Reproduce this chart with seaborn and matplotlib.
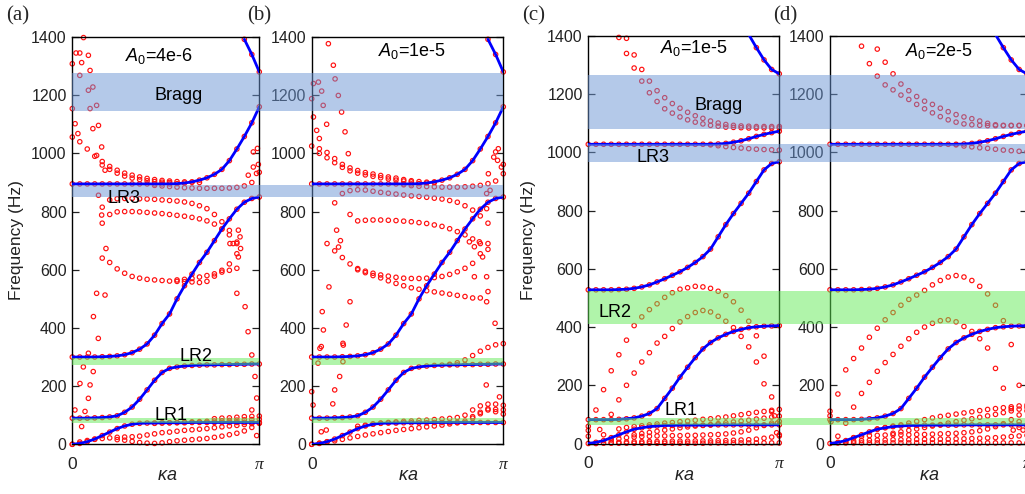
import numpy as np
import pandas as pd
import matplotlib
matplotlib.use("Agg")
import matplotlib.pyplot as plt
import seaborn as sns
from matplotlib.patches import Rectangle
from matplotlib.transforms import blended_transform_factory

# ---------------- data ----------------
# ka / pi sampling grid
GRID = [0.00, 0.04, 0.08, 0.12, 0.16, 0.20, 0.24, 0.28, 0.32, 0.36, 0.40, 0.44, 0.48,
        0.52, 0.56, 0.60, 0.64, 0.68, 0.72, 0.76, 0.80, 0.84, 0.88, 0.92, 0.96, 1.00]

# blue dispersion curves, panels (a),(b)  -> (start index, values)
AB_BLUE1 = (0, [0, 3, 9, 18, 30, 42, 54, 63, 69, 72, 73, 73, 74, 74, 74, 74, 75, 75, 75, 75, 75, 75, 75, 75, 75, 75])
AB_BLUE2 = (0, [90, 90, 90, 91, 92, 94, 98, 110, 128, 155, 187, 220, 247, 261, 266, 269, 271, 272, 273, 273, 274, 274, 275, 275, 276, 276])
AB_BLUE3 = (0, [300, 300, 300, 300, 301, 302, 304, 308, 315, 327, 345, 375, 415, 448, 500, 545, 585, 625, 660, 700, 740, 775, 808, 832, 845, 850])
AB_BLUE4 = (0, [895, 895, 895, 895, 895, 895, 895, 895, 895, 895, 895, 895, 895, 895, 896, 898, 902, 908, 916, 928, 945, 975, 1015, 1058, 1105, 1160])
AB_BLUE5 = (23, [1392, 1340, 1280])

# blue dispersion curves, panels (c),(d)
CD_BLUE1 = (0, [0, 4, 10, 20, 30, 40, 49, 54, 58, 60, 62, 62, 63, 63, 63, 63, 63, 64, 64, 64, 64, 64, 64, 64, 64, 64])
CD_BLUE2 = (0, [82, 82, 82, 82, 83, 85, 88, 94, 103, 120, 155, 190, 228, 262, 295, 325, 347, 363, 375, 385, 392, 398, 401, 403, 404, 405])
CD_BLUE3 = (0, [528, 528, 528, 528, 529, 530, 533, 538, 545, 555, 566, 578, 590, 605, 622, 642, 668, 710, 752, 790, 825, 860, 900, 940, 962, 968])
CD_BLUE4 = (0, [1028, 1028, 1028, 1028, 1028, 1028, 1028, 1028, 1028, 1028, 1028, 1028, 1028, 1028, 1028, 1028, 1028, 1029, 1031, 1035, 1040, 1047, 1055, 1062, 1068, 1073])
CD_BLUE5 = (21, [1405, 1360, 1318, 1285, 1270])

# red simulated points, panel (a)
A_RED1 = (0, [0, 8, 13, 17, 20, 22, 24, 25, 26, 28, 32, 36, 40, 42, 45, 48, 50, 52, 54, 57, 60, 63, 65, 68, 71, 74])
A_RED2 = (6, [16, 14, 10, 6, 4, 3, 5, 9, 12, 14, 16, 18, 20, 24, 28, 33, 38, 46, 58, 72])
A_RED3 = (11, [72, 73, 74, 75, 76, 77, 78, 79, 80, 81, 82, 83, 84, 85, 86])
A_RED4 = (19, [88, 90, 91, 93, 95, 96, 97])
A_RED5 = (4, [640, 625, 603, 588, 577, 571, 567, 565, 563, 561, 560, 559, 558, 556, 560, 578, 598, 620, 655])
A_RED6 = (14, [565, 567, 570, 575, 580, 586, 592, 598, 605])
A_RED7 = (4, [815, 840, 844, 845, 845, 844, 843, 842, 840, 838, 836, 833, 828, 820, 810, 790, 765, 735, 690])
A_RED8 = (4, [760, 790, 799, 800, 800, 799, 797, 795, 793, 790, 787, 784, 780, 775, 768, 757, 740, 720, 695])
A_RED9 = (0, [1056, 1040, 1015, 990, 972, 955, 942, 932, 925, 919, 914, 910, 907, 905, 903, 902, 901, 900])
A_RED10 = (4, [960, 945, 932, 922, 915, 910, 906, 903, 901, 900])
A_RED11 = (11, [890, 888, 886, 884, 882, 881, 880, 880, 880, 880, 881, 883, 888, 900, 935])
A_STRAY_K = [0.0, 0.02, 0.04, 0.06, 0.05, 0.086, 0.04, 0.086, 0.11, 0.095, 0.095, 0.13, 0.0, 0.015, 0.03,
             0.11, 0.14, 0.157, 0.13, 0.175, 0.14, 0.157, 0.18, 0.13, 0.175, 0.113, 0.139, 0.086, 0.059,
             0.041, 0.095, 0.086, 0.014, 0.068, 0.05, 0.112, 0.96, 0.977, 0.986, 0.96, 0.986, 0.88, 0.924,
             0.94, 0.968, 0.99, 0.941, 0.968, 0.995, 0.985, 0.888, 0.897, 0.86, 0.843, 0.888, 0.9]
A_STRAY_F = [1308, 1345, 1345, 1398, 1312, 1337, 1268, 1217, 1228, 1285, 1154, 1165, 1154, 1102, 1068,
             1085, 1096, 1022, 993, 942, 856, 788, 673, 519, 513, 439, 364, 313, 266,
             209, 204, 158, 118, 113, 61, 250, 307, 233, 159, 118, 30, 519, 473,
             387, 1005, 1017, 925, 953, 962, 931, 736, 713, 690, 690, 644, 673]

# red simulated points, panel (b)
B_RED1 = (6, [62, 66, 70, 73, 75, 77, 79, 80, 82, 83, 85, 87, 89, 92, 100, 118, 132, 138, 138, 134])
B_RED2 = (0, [0, 4, 8, 12, 17, 22, 27, 32, 36, 40, 44, 48, 51, 54, 57, 60, 63, 66, 70, 74, 80, 90, 105, 118, 120, 118])
B_RED3 = (21, [95, 110, 122, 112, 104])
B_RED4 = (18, [275, 280, 290, 305, 320, 333, 342, 346])
B_RED5 = (2, [690, 665, 642, 620, 604, 595, 588, 582, 578, 574, 571, 570, 570, 571, 573, 577, 584, 593, 605, 622, 655, 690])
B_RED6 = (6, [600, 590, 580, 572, 562, 553, 545, 538, 533, 528, 524, 520, 516, 512, 508, 503, 503, 525])
B_RED7 = (0, [1025, 1016, 1003, 982, 962, 950, 941, 934, 929, 924, 919, 915, 910, 906, 903, 901, 899])
B_RED8 = (1, [1000, 985, 968, 952, 940, 932, 926, 921, 916, 912, 908, 905, 902])
B_RED9 = (3, [830, 862, 872, 875, 874, 870, 866, 863, 860, 857, 854, 852, 849, 846, 843, 838, 832, 820, 805, 785, 760])
B_RED10 = (5, [790, 768, 770, 771, 771, 770, 769, 767, 765, 762, 759, 754, 749, 741, 731, 720, 706, 690, 670])
B_RED11 = (12, [892, 889, 887, 886, 885, 884, 884, 884, 885, 887, 890, 896, 905, 930])
B_STRAY_K = [0.0, 0.009, 0.035, 0.052, 0.06, 0.087, 0.113, 0.122, 0.139, 0.156, 0.174, 0.191, 0.009, 0.026,
             0.04, 0.078, 0.13, 0.15, 0.14, 0.0, 0.05, 0.163, 0.146, 0.12, 0.11, 0.076, 0.05, 0.007, 0.033,
             0.163, 0.09, 0.055, 0.061, 0.043, 0.2, 0.18, 0.165, 0.913, 0.957, 0.911, 0.98, 0.974, 0.96,
             0.95, 0.97, 0.922, 0.931, 0.913, 0.99, 1.0, 0.913, 0.823, 0.849, 0.875, 0.892, 0.849, 0.913]
B_STRAY_F = [1188, 1240, 1245, 1214, 1165, 1377, 1303, 1256, 1199, 1142, 1074, 999, 1125, 1079,
             1051, 1100, 736, 700, 678, 181, 336, 347, 233, 187, 139, 49, 43, 135, 279,
             284, 541, 456, 393, 330, 490, 410, 341, 490, 416, 204, 163, 1016, 1005,
             987, 976, 930, 873, 862, 953, 962, 810, 696, 679, 696, 644, 576, 576]

# red simulated points, panel (c)
C_RED1 = (4, [1395, 1340, 1290, 1245, 1205, 1175, 1150, 1135, 1122, 1112, 1104, 1098, 1093, 1090, 1087, 1086, 1085, 1084, 1084, 1084, 1084, 1084])
C_RED2 = (5, [1392, 1335, 1285, 1245, 1212, 1188, 1168, 1152, 1138, 1126, 1117, 1108, 1101, 1096, 1093, 1091, 1090, 1089, 1089, 1089, 1089])
C_RED3 = (16, [1026, 1023, 1020, 1017, 1015, 1013, 1011, 1010, 1009, 1008])
C_RED4 = (0, [45, 115, 185, 250, 305, 355, 405, 435, 460, 480, 502, 518, 530, 535, 540, 538, 533, 523, 508, 487, 458, 420, 370, 300, 160, 30])
C_RED5 = (1, [0, 30, 100, 150, 200, 242, 280, 312, 345, 368, 395, 418, 436, 450, 457, 452, 437, 420, 398, 368, 332, 280, 205, 110])
C_RED6 = (4, [50, 55, 58, 61, 64, 67, 70, 72, 75, 77, 80, 83, 85, 88, 91, 95, 99, 103, 107, 110, 114, 117])
C_RED7 = (6, [30, 34, 38, 42, 46, 50, 54, 57, 60, 62, 65, 68, 71, 74, 77, 80, 84, 87, 91, 94])
C_RED8 = (3, [12, 16, 20, 22, 24, 25, 26, 26, 27, 27, 28, 28, 29, 30, 31, 33, 36, 40, 46, 54, 62, 70, 76])
C_RED9 = (3, [3, 4, 5, 6, 6, 7, 7, 7, 8, 8, 8, 9, 9, 9, 10, 10, 11, 12, 13, 15, 18, 22, 26])
C_RED10 = (2, [1, 1, 1, 1, 1, 1, 1, 1, 1, 1, 1, 1, 1, 1, 2, 2, 2, 2, 2, 2, 2, 2, 2, 2])
C_STRAY_K = [0.0, 0.0, 0.06, 0.986, 0.99, 0.975]
C_STRAY_F = [59, 25, 48, 37, 70, 95]

# red simulated points, panel (d)
D_RED1 = (4, [1365, 1305, 1262, 1232, 1215, 1197, 1182, 1165, 1150, 1136, 1123, 1112, 1104, 1098, 1095, 1093, 1092, 1092, 1092, 1092, 1092, 1092])
D_RED2 = (6, [1355, 1310, 1270, 1235, 1212, 1192, 1176, 1165, 1152, 1140, 1130, 1122, 1116, 1108, 1100, 1095, 1093, 1093, 1093, 1093])
D_RED3 = (16, [1026, 1022, 1019, 1016, 1014, 1011, 1008, 1006, 1004, 1002])
D_RED4 = (0, [95, 170, 253, 292, 328, 365, 396, 425, 450, 475, 495, 510, 526, 545, 560, 572, 577, 572, 560, 540, 514, 475, 422, 340, 200, 60])
D_RED5 = (1, [25, 70, 125, 172, 210, 248, 278, 306, 334, 360, 382, 400, 413, 422, 425, 418, 402, 385, 360, 328, 258, 190, 120, 55])
D_RED6 = (6, [50, 55, 60, 64, 70, 76, 82, 88, 93, 97, 101, 105, 109, 113, 117, 120, 123, 126, 129, 132])
D_RED7 = (8, [35, 40, 45, 50, 55, 60, 65, 70, 75, 80, 85, 90, 95, 100, 106, 112, 118, 124])
D_RED8 = (3, [20, 24, 27, 28, 29, 30, 30, 30, 31, 31, 32, 33, 34, 35, 37, 40, 44, 50, 58, 68, 82, 98, 112])
D_RED9 = (2, [5, 8, 10, 11, 12, 12, 13, 13, 13, 14, 14, 14, 15, 15, 16, 16, 17, 18, 19, 20, 22, 24, 26, 28])
D_RED10 = (1, [2, 2, 2, 2, 2, 2, 2, 2, 2, 2, 2, 2, 2, 2, 2, 2, 2, 2, 2, 2, 2, 2, 2, 2, 2])
D_STRAY_K = [0.0, 0.005, 0.93, 0.98, 0.96]
D_STRAY_F = [111, 75, 46, 46, 75]

# band gaps (Hz)
AB_BANDS_BLUE = [(1146, 1276), (851, 892)]
AB_BANDS_GREEN = [(272, 295), (73, 92)]
CD_BANDS_BLUE = [(1079, 1266), (968, 1029)]
CD_BANDS_GREEN = [(409, 523), (65, 86)]

PANEL_TAGS = ["(a)", "(b)", "(c)", "(d)"]
AMPLITUDES = ["4e-6", "1e-5", "1e-5", "2e-5"]
YTICKS = [0, 200, 400, 600, 800, 1000, 1200, 1400]

# ---------------- styling ----------------
sns.set_style("ticks")
plt.rcParams["font.family"] = ["Liberation Sans", "DejaVu Sans"]
plt.rcParams["mathtext.fontset"] = "custom"
plt.rcParams["mathtext.rm"] = "Liberation Sans"
plt.rcParams["mathtext.it"] = "Liberation Sans:italic"

W, H = 1025, 494
fig = plt.figure(figsize=(W / 100, H / 100), dpi=100)


def frac_rect(l, r, t, b):
    return [l / W, 1 - b / H, (r - l) / W, (b - t) / H]


ax_a = fig.add_axes(frac_rect(72.3, 259.3, 37, 444.3))
ax_b = fig.add_axes(frac_rect(311.7, 503.3, 37, 444.3))
ax_c = fig.add_axes(frac_rect(588.3, 779.3, 36, 443.5))
ax_d = fig.add_axes(frac_rect(830, 1027, 36, 443.5))
axes = [ax_a, ax_b, ax_c, ax_d]

panels = [
    dict(blue=[AB_BLUE1, AB_BLUE2, AB_BLUE3, AB_BLUE4, AB_BLUE5],
         red=[A_RED1, A_RED2, A_RED3, A_RED4, A_RED5, A_RED6, A_RED7, A_RED8, A_RED9, A_RED10, A_RED11],
         stray=(A_STRAY_K, A_STRAY_F)),
    dict(blue=[AB_BLUE1, AB_BLUE2, AB_BLUE3, AB_BLUE4, AB_BLUE5],
         red=[B_RED1, B_RED2, B_RED3, B_RED4, B_RED5, B_RED6, B_RED7, B_RED8, B_RED9, B_RED10, B_RED11],
         stray=(B_STRAY_K, B_STRAY_F)),
    dict(blue=[CD_BLUE1, CD_BLUE2, CD_BLUE3, CD_BLUE4, CD_BLUE5],
         red=[C_RED1, C_RED2, C_RED3, C_RED4, C_RED5, C_RED6, C_RED7, C_RED8, C_RED9, C_RED10],
         stray=(C_STRAY_K, C_STRAY_F)),
    dict(blue=[CD_BLUE1, CD_BLUE2, CD_BLUE3, CD_BLUE4, CD_BLUE5],
         red=[D_RED1, D_RED2, D_RED3, D_RED4, D_RED5, D_RED6, D_RED7, D_RED8, D_RED9, D_RED10],
         stray=(D_STRAY_K, D_STRAY_F)),
]


def curves_frame(curves):
    rows = []
    for ci, (start, vals) in enumerate(curves):
        for j, v in enumerate(vals):
            rows.append((np.pi * GRID[start + j], v, ci))
    return pd.DataFrame(rows, columns=["ka", "freq", "curve"])


for ax, p in zip(axes, panels):
    blue_df = curves_frame(p["blue"])
    red_df = curves_frame(p["blue"] + p["red"])
    sk, sf = p["stray"]
    stray_df = pd.DataFrame({"ka": np.pi * np.array(sk), "freq": sf, "curve": -1})
    pts = pd.concat([red_df, stray_df], ignore_index=True)
    pts = pts[(pts["freq"] <= 1400) & (pts["freq"] >= 0)]

    sns.scatterplot(data=pts, x="ka", y="freq", ax=ax, marker="o", s=10,
                    facecolor="none", edgecolor="#ff1010", linewidth=0.85,
                    clip_on=False, zorder=2, legend=False)
    sns.lineplot(data=blue_df, x="ka", y="freq", units="curve", estimator=None,
                 sort=False, color="#0000ff", lw=2.0, ax=ax, zorder=3, legend=False)

    ax.set_xlim(0, np.pi)
    ax.set_ylim(0, 1400)
    ax.set_xlabel("")
    ax.set_ylabel("")
    ax.set_yticks(YTICKS)
    ax.set_xticks([0, np.pi])
    ax.set_xticklabels(["0", "π"])
    ax.get_xticklabels()[1].set_fontfamily("Liberation Serif")
    ax.get_xticklabels()[1].set_fontstyle("italic")
    ax.tick_params(axis="y", direction="in", left=True, right=True, length=5,
                   width=0.9, labelsize=11.5, colors="#222222", pad=4)
    ax.tick_params(axis="x", length=0, labelsize=12.5, pad=9, colors="#222222")
    for s in ax.spines.values():
        s.set_visible(True)
        s.set_linewidth(1.0)
        s.set_color("black")

# green bands for (a),(b) only within each axes
for ax in (ax_a, ax_b):
    for lo, hi in AB_BANDS_GREEN:
        ax.axhspan(lo, hi, color="#62eb56", alpha=0.5, lw=0, zorder=5)


def fig_band(ax_ref, x0, x1, lo, hi, color):
    tr = blended_transform_factory(fig.transFigure, ax_ref.transData)
    r = Rectangle((x0 / W, lo), (x1 - x0) / W, hi - lo, transform=tr,
                  facecolor=color, alpha=0.5, lw=0, zorder=5)
    fig.add_artist(r)


for lo, hi in AB_BANDS_BLUE:
    fig_band(ax_a, 72.3, 503.3, lo, hi, "#6a94d4")
for lo, hi in CD_BANDS_BLUE:
    fig_band(ax_c, 588.3, 1030, lo, hi, "#6a94d4")
for lo, hi in CD_BANDS_GREEN:
    fig_band(ax_c, 588.3, 1030, lo, hi, "#62eb56")

# amplitude annotations
amp_pos = [(0.28, 1318), (0.346, 1336), (0.375, 1341), (0.38, 1332)]
for ax, amp, (kx, fy) in zip(axes, AMPLITUDES, amp_pos):
    fig.text(np.pi * kx, fy, r"$A_0$=" + amp, fontsize=13, ha="left", va="baseline",
             color="black", zorder=7, transform=ax.transData)

# band labels (figure-level so they sit above the translucent bands)
label_spec = [
    (ax_a, "Bragg", 0.568, 1199, "center"), (ax_a, "LR3", 0.19, 846, "left"),
    (ax_a, "LR2", 0.66, 303, "center"), (ax_a, "LR1", 0.53, 99, "center"),
    (ax_c, "Bragg", 0.683, 1160, "center"), (ax_c, "LR3", 0.339, 983, "center"),
    (ax_c, "LR2", 0.14, 451, "center"), (ax_c, "LR1", 0.485, 113, "center"),
]
for ax, txt, kx, fy, ha in label_spec:
    fig.text(np.pi * kx, fy, txt, fontsize=13, ha=ha, va="center", color="black",
             zorder=7, transform=ax.transData)

# panel tags
for tag, x in zip(PANEL_TAGS, [18, 259.5, 534, 785]):
    fig.text(x / W, 1 - 16 / H, tag, fontsize=15, family="Liberation Serif",
             ha="center", va="center")

# axis labels
for x in [16.5, 529]:
    fig.text(x / W, 1 - 240 / H, "Frequency (Hz)", rotation=90, fontsize=12.5,
             ha="center", va="center", color="#222222")
for x in [167, 408, 684, 929]:
    fig.text(x / W, 1 - 475 / H, r"$\kappa a$", fontsize=13, ha="center", va="center",
             color="#222222")

fig.savefig("out.png", dpi=100)
